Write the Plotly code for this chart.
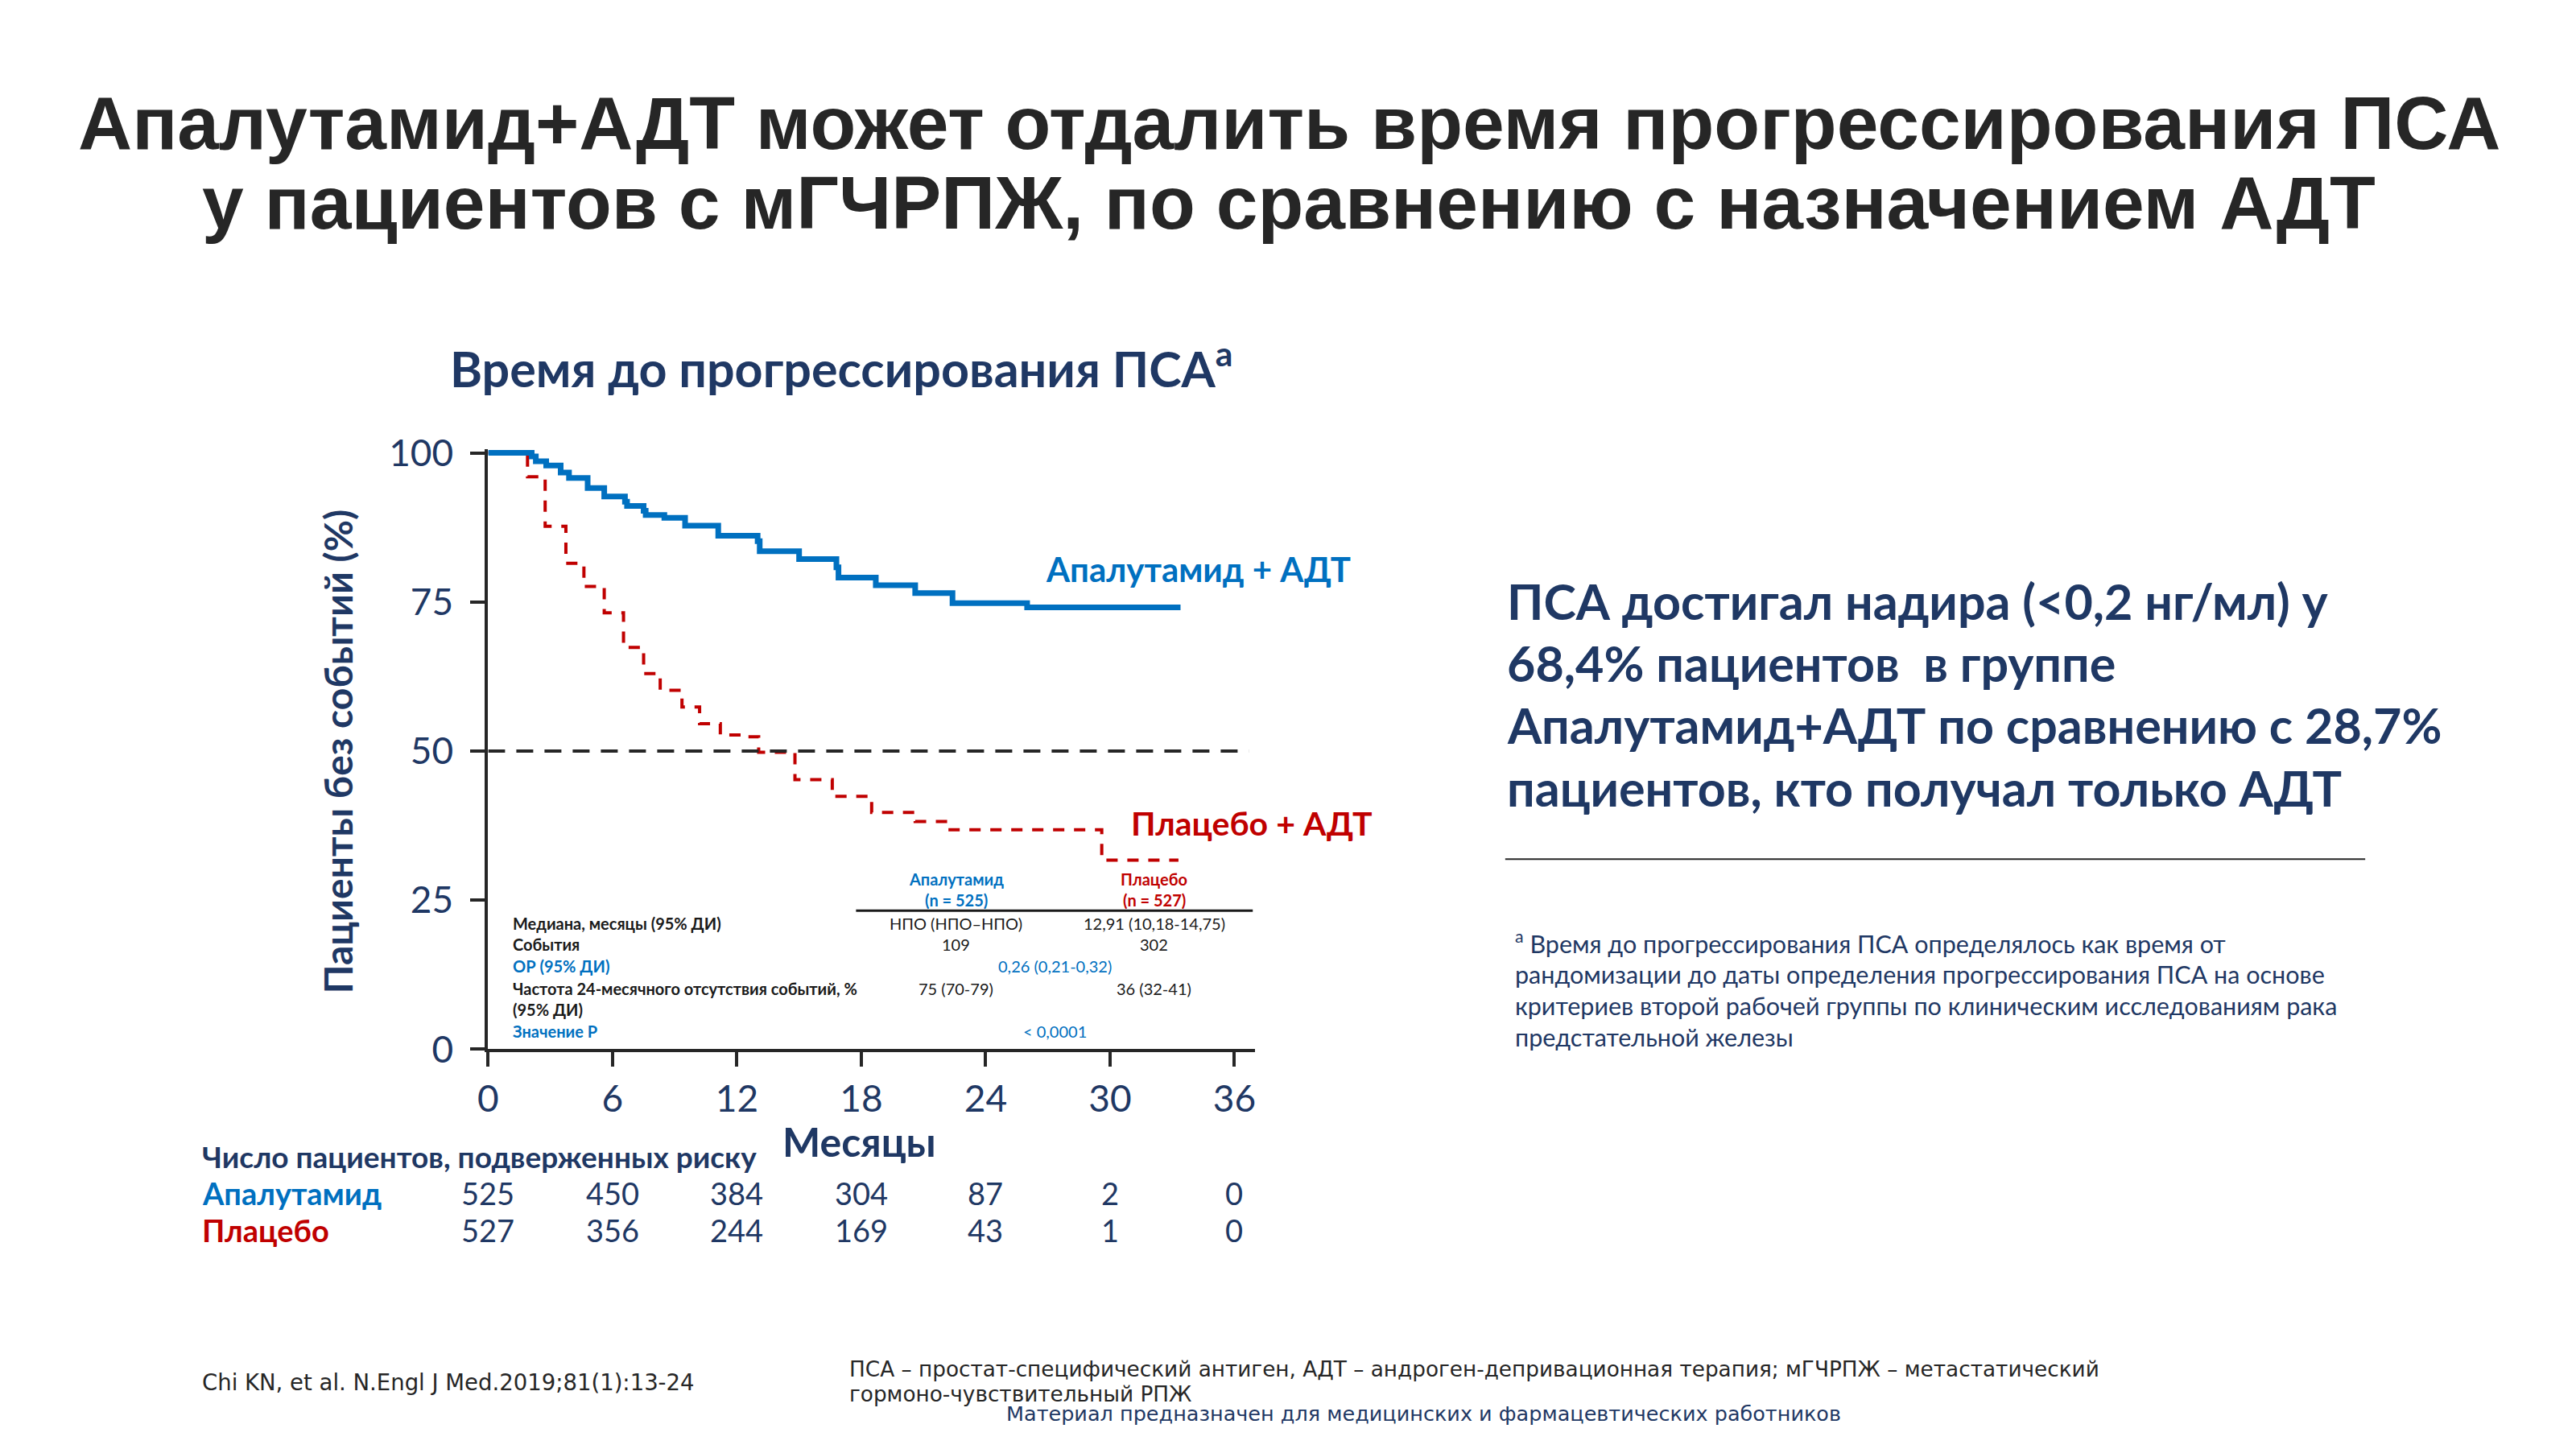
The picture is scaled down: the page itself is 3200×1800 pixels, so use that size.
import plotly.graph_objects as go

W, H = 3200, 1800

# ---------------- data ----------------
months_apa = [0, 2.1, 2.3, 2.8, 3.5, 3.9, 4.8, 5.6, 6.6, 6.7, 7.5, 7.6, 8.5, 9.5, 11.1,
              13.0, 13.1, 15.0, 16.8, 16.9, 18.7, 20.6, 22.4, 26.0, 33.4]
surv_apa = [100, 99.4, 98.6, 97.9, 96.7, 95.8, 94.1, 92.7, 91.8, 91.1, 90.3, 89.6, 89.1, 87.8, 86.1,
            85.2, 83.5, 82.2, 80.8, 79.1, 77.8, 76.5, 74.8, 74.1, 74.1]

months_pbo = [0, 1.9, 2.75, 3.75, 4.62, 5.6, 6.53, 7.5, 8.3, 9.35, 10.2, 11.2, 12.2, 13.05,
              14.8, 16.6, 18.5, 20.6, 22.2, 29.6, 33.3]
surv_pbo = [100, 96, 87.7, 81.5, 77.6, 73.2, 67.4, 63.0, 60.2, 57.4, 54.6, 52.7, 52.4, 49.8,
            45.2, 42.4, 39.7, 38.2, 36.8, 31.7, 31.7]

median_line_x = [0, 36.7]
median_line_y = [50, 50]

x_ticks = [0, 6, 12, 18, 24, 30, 36]
y_ticks = [0, 25, 50, 75, 100]

risk_apa = [525, 450, 384, 304, 87, 2, 0]
risk_pbo = [527, 356, 244, 169, 43, 1, 0]

table_labels = ["Медиана, месяцы (95% ДИ)", "События", "ОР (95% ДИ)",
                "Частота 24-месячного отсутствия событий, %", "(95% ДИ)", "Значение P"]
table_label_colors = ["#1a1a1a", "#1a1a1a", "#0070C0", "#1a1a1a", "#1a1a1a", "#0070C0"]
table_apa = ["НПО (НПО–НПО)", "109", "", "75 (70-79)", "", ""]
table_pbo = ["12,91 (10,18-14,75)", "302", "", "36 (32-41)", "", ""]
table_merged = ["", "", "0,26 (0,21-0,32)", "", "", "< 0,0001"]

right_lines = ["ПСА достигал надира (<0,2 нг/мл) у",
               "68,4% пациентов  в группе",
               "Апалутамид+АДТ по сравнению с 28,7%",
               "пациентов, кто получал только АДТ"]
foot_lines = ["<sup>а</sup> Время до прогрессирования ПСА определялось как время от",
              "рандомизации до даты определения прогрессирования ПСА на основе",
              "критериев второй рабочей группы по клиническим исследованиям рака",
              "предстательной железы"]

# ---------------- styling ----------------
NAVY = "#1F3864"
BLUE = "#0070C0"
RED = "#C00000"
DARK = "#262626"
FONT = "Lato, 'Open Sans', sans-serif"
ARIAL = "'Liberation Sans', Arial, sans-serif"
DEJAVU = "'DejaVu Sans', Verdana, sans-serif"

def px(x):
    return x / W

def py(y):
    return 1 - y / H

# axis geometry (pixels)
X0, X37 = 596, 1553
Y0, Y100 = 1316, 554
ytop_val = 100.6
ytop_px = Y0 - ytop_val * (Y0 - Y100) / 100

fig = go.Figure()

fig.add_trace(go.Scatter(x=months_pbo, y=surv_pbo, mode="lines", line_shape="hv",
                         line=dict(color=RED, width=4, dash="14px,12px"),
                         hoverinfo="skip", showlegend=False))
fig.add_trace(go.Scatter(x=median_line_x, y=median_line_y, mode="lines",
                         line=dict(color=DARK, width=4, dash="21px,14px"),
                         hoverinfo="skip", showlegend=False))
fig.add_trace(go.Scatter(x=months_apa, y=surv_apa, mode="lines", line_shape="hv",
                         line=dict(color=BLUE, width=7),
                         hoverinfo="skip", showlegend=False))

ann = []

def A(text, x, y, size, color=NAVY, bold=False, xanchor="left", yanchor="middle",
      font=FONT, xref="paper", textangle=0):
    ann.append(dict(text=("<b>%s</b>" % text) if bold else text,
                    x=x, y=y, xref=xref, yref="paper", xanchor=xanchor, yanchor=yanchor,
                    showarrow=False, textangle=textangle,
                    font=dict(family=font, size=size, color=color)))

# Main title
A("Апалутамид+АДТ может отдалить время прогрессирования ПСА", px(1595), py(133), 93,
  DARK, True, "center", font=ARIAL)
A("у пациентов с мГЧРПЖ, по сравнению с назначением АДТ", px(1595), py(235), 93,
  DARK, True, "center", font=ARIAL)

# Chart subtitle
A("Время до прогрессирования ПСА<sup>а</sup>", px(1037), py(442), 61, NAVY, True, "center")

# axis titles
A("Пациенты без событий (%)", px(408), py(935), 48, NAVY, True, "center", textangle=-90)
A("Месяцы", px(1059), py(1434), 50, NAVY, True, "center")

# curve labels
A("Апалутамид + АДТ", px(1290), py(702), 42, BLUE, True)
A("Плацебо + АДТ", px(1396), py(1027), 41, RED, True)

# inner table
A("Апалутамид", px(1180), py(1098), 20, BLUE, True, "center")
A("(n = 525)", px(1180), py(1125), 20, BLUE, True, "center")
A("Плацебо", px(1427), py(1098), 20, RED, True, "center")
A("(n = 527)", px(1427), py(1125), 20, RED, True, "center")
row_y = [1155, 1182, 1210, 1238, 1265, 1293]
for lab, col, a, p, m, yy in zip(table_labels, table_label_colors, table_apa, table_pbo,
                                 table_merged, row_y):
    A(lab, px(625), py(yy), 20, col, True)
    if a:
        A(a, px(1180), py(yy), 20, "#1a1a1a", False, "center")
    if p:
        A(p, px(1427), py(yy), 20, "#1a1a1a", False, "center")
    if m:
        A(m, px(1303), py(yy), 20, BLUE, False, "center")

# risk table
A("Число пациентов, подверженных риску", px(237), py(1453), 37, NAVY, True)
A("Апалутамид", px(237), py(1500), 38, BLUE, True)
A("Плацебо", px(237), py(1547), 38, RED, True)
for m, ra, rp in zip(x_ticks, risk_apa, risk_pbo):
    A(str(ra), m, py(1500), 38, NAVY, False, "center", xref="x")
    A(str(rp), m, py(1547), 38, NAVY, False, "center", xref="x")

# right-hand text
for i, line in enumerate(right_lines):
    A(line, px(1865), py(743 + i * 79.5), 61, NAVY, True)
for i, line in enumerate(foot_lines):
    A(line, px(1875), py(1179 + i * 40.5), 30.5, NAVY, False)

# footer
A("Chi KN, et al. N.Engl J Med.2019;81(1):13-24", px(237), py(1741), 27.5, DARK, False, font=DEJAVU)
A("ПСА – простат-специфический антиген, АДТ – андроген-депривационная терапия; мГЧРПЖ – метастатический",
  px(1045), py(1725), 26.3, DARK, False, font=DEJAVU)
A("гормоно-чувствительный РПЖ", px(1045), py(1757), 26.3, DARK, False, font=DEJAVU)
A("Материал предназначен для медицинских и фармацевтических работников", px(1763), py(1781), 25.5,
  NAVY, False, "center", font=DEJAVU)

shapes = [
    dict(type="line", xref="paper", yref="paper", x0=px(1055), x1=px(1550), y0=py(1139), y1=py(1139),
         line=dict(color="#1a1a1a", width=3)),
    dict(type="line", xref="paper", yref="paper", x0=px(1865), x1=px(2938), y0=py(1073), y1=py(1073),
         line=dict(color=DARK, width=2)),
]

fig.update_layout(
    width=W, height=H,
    margin=dict(l=0, r=0, t=0, b=0),
    paper_bgcolor="white", plot_bgcolor="white",
    annotations=ann, shapes=shapes, showlegend=False,
    xaxis=dict(domain=[px(X0), px(X37)], range=[0, 37], tickvals=x_ticks,
               ticks="outside", ticklen=18, tickwidth=4, tickcolor=DARK,
               showline=True, linewidth=4, linecolor=DARK, showgrid=False, zeroline=False,
               tickfont=dict(family=FONT, size=46, color=NAVY), ticklabelstandoff=0),
    yaxis=dict(domain=[py(Y0), py(ytop_px)], range=[0, ytop_val], tickvals=y_ticks,
               ticks="outside", ticklen=18, tickwidth=4, tickcolor=DARK,
               showline=True, linewidth=4, linecolor=DARK, showgrid=False, zeroline=False,
               tickfont=dict(family=FONT, size=46, color=NAVY), ticklabelstandoff=12),
)

fig.write_html("out.html", config={"displayModeBar": False},
               post_script="document.body.style.margin='0px';document.body.style.overflow='hidden';")
